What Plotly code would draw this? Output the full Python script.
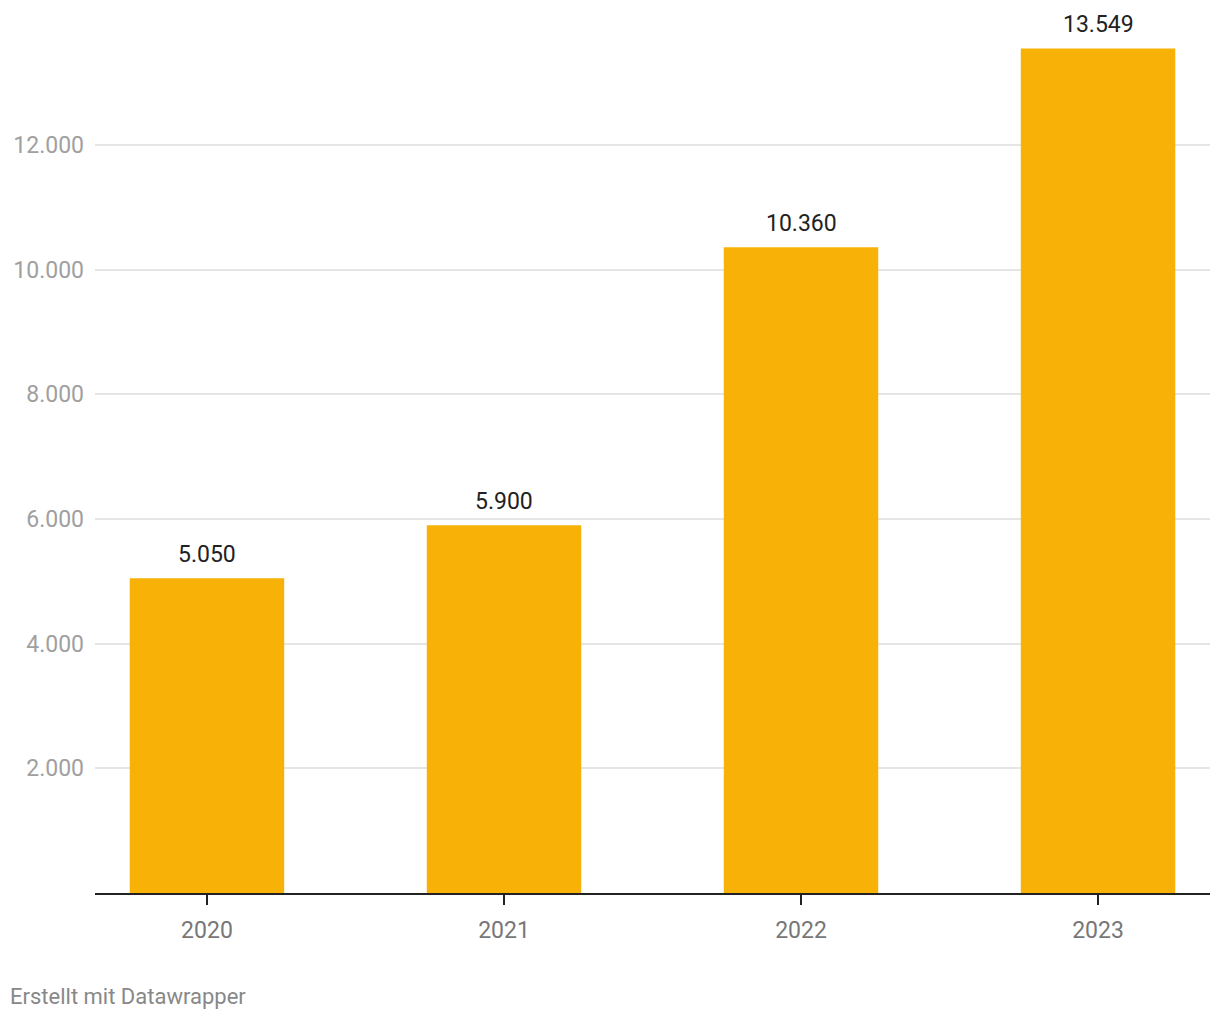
import plotly.graph_objects as go

years = ["2020", "2021", "2022", "2023"]
values = [5050, 5900, 10360, 13549]
y_ticks = [2000, 4000, 6000, 8000, 10000, 12000]
y_tick_labels = ["2.000", "4.000", "6.000", "8.000", "10.000", "12.000"]


def fmt(v):
    return f"{v:,}".replace(",", ".")


fig = go.Figure(go.Bar(
    x=years,
    y=values,
    marker_color="#F8B107",
    marker_line_width=0,
    width=0.52,
    hoverinfo="skip",
))

# value labels above bars (x given as category index)
for i, v in enumerate(values):
    fig.add_annotation(
        x=i, y=v, text=fmt(v), showarrow=False,
        yanchor="bottom", yshift=8,
        font=dict(family="Roboto", size=23, color="#222222"),
    )

# page has an 8px body margin, so the figure is a bit smaller
W, H = 1212, 1012
ml, mr, mt, mb = 87, 10, 0, 127
plot_w = W - ml - mr
plot_h = H - mt - mb

fig.add_annotation(
    xref="paper", yref="paper", x=(0 - ml) / plot_w, y=-103 / plot_h,
    xanchor="left", yanchor="middle", showarrow=False,
    text="Erstellt mit Datawrapper",
    font=dict(family="Roboto", size=22, color="#888888"),
)

fig.update_layout(
    width=W, height=H,
    margin=dict(l=ml, r=mr, t=mt, b=mb),
    plot_bgcolor="white", paper_bgcolor="white",
    showlegend=False,
    font=dict(family="Roboto"),
)
fig.update_xaxes(
    type="category",
    range=[-0.377, 3.377],
    showline=True, linecolor="#222222", linewidth=2,
    ticks="outside", ticklen=10, tickwidth=2, tickcolor="#222222",
    tickfont=dict(family="Roboto", size=23, color="#777777"),
    ticklabelstandoff=5,
    showgrid=False,
)
fig.update_yaxes(
    range=[0, 14198],
    tickvals=y_ticks, ticktext=y_tick_labels,
    tickfont=dict(family="Roboto", size=23, color="#A0A0A0"),
    showgrid=True, gridcolor="#E5E5E5", gridwidth=1.5,
    zeroline=False, showline=False, ticks="",
    ticklabelstandoff=10,
)

fig.write_html("out.html")
